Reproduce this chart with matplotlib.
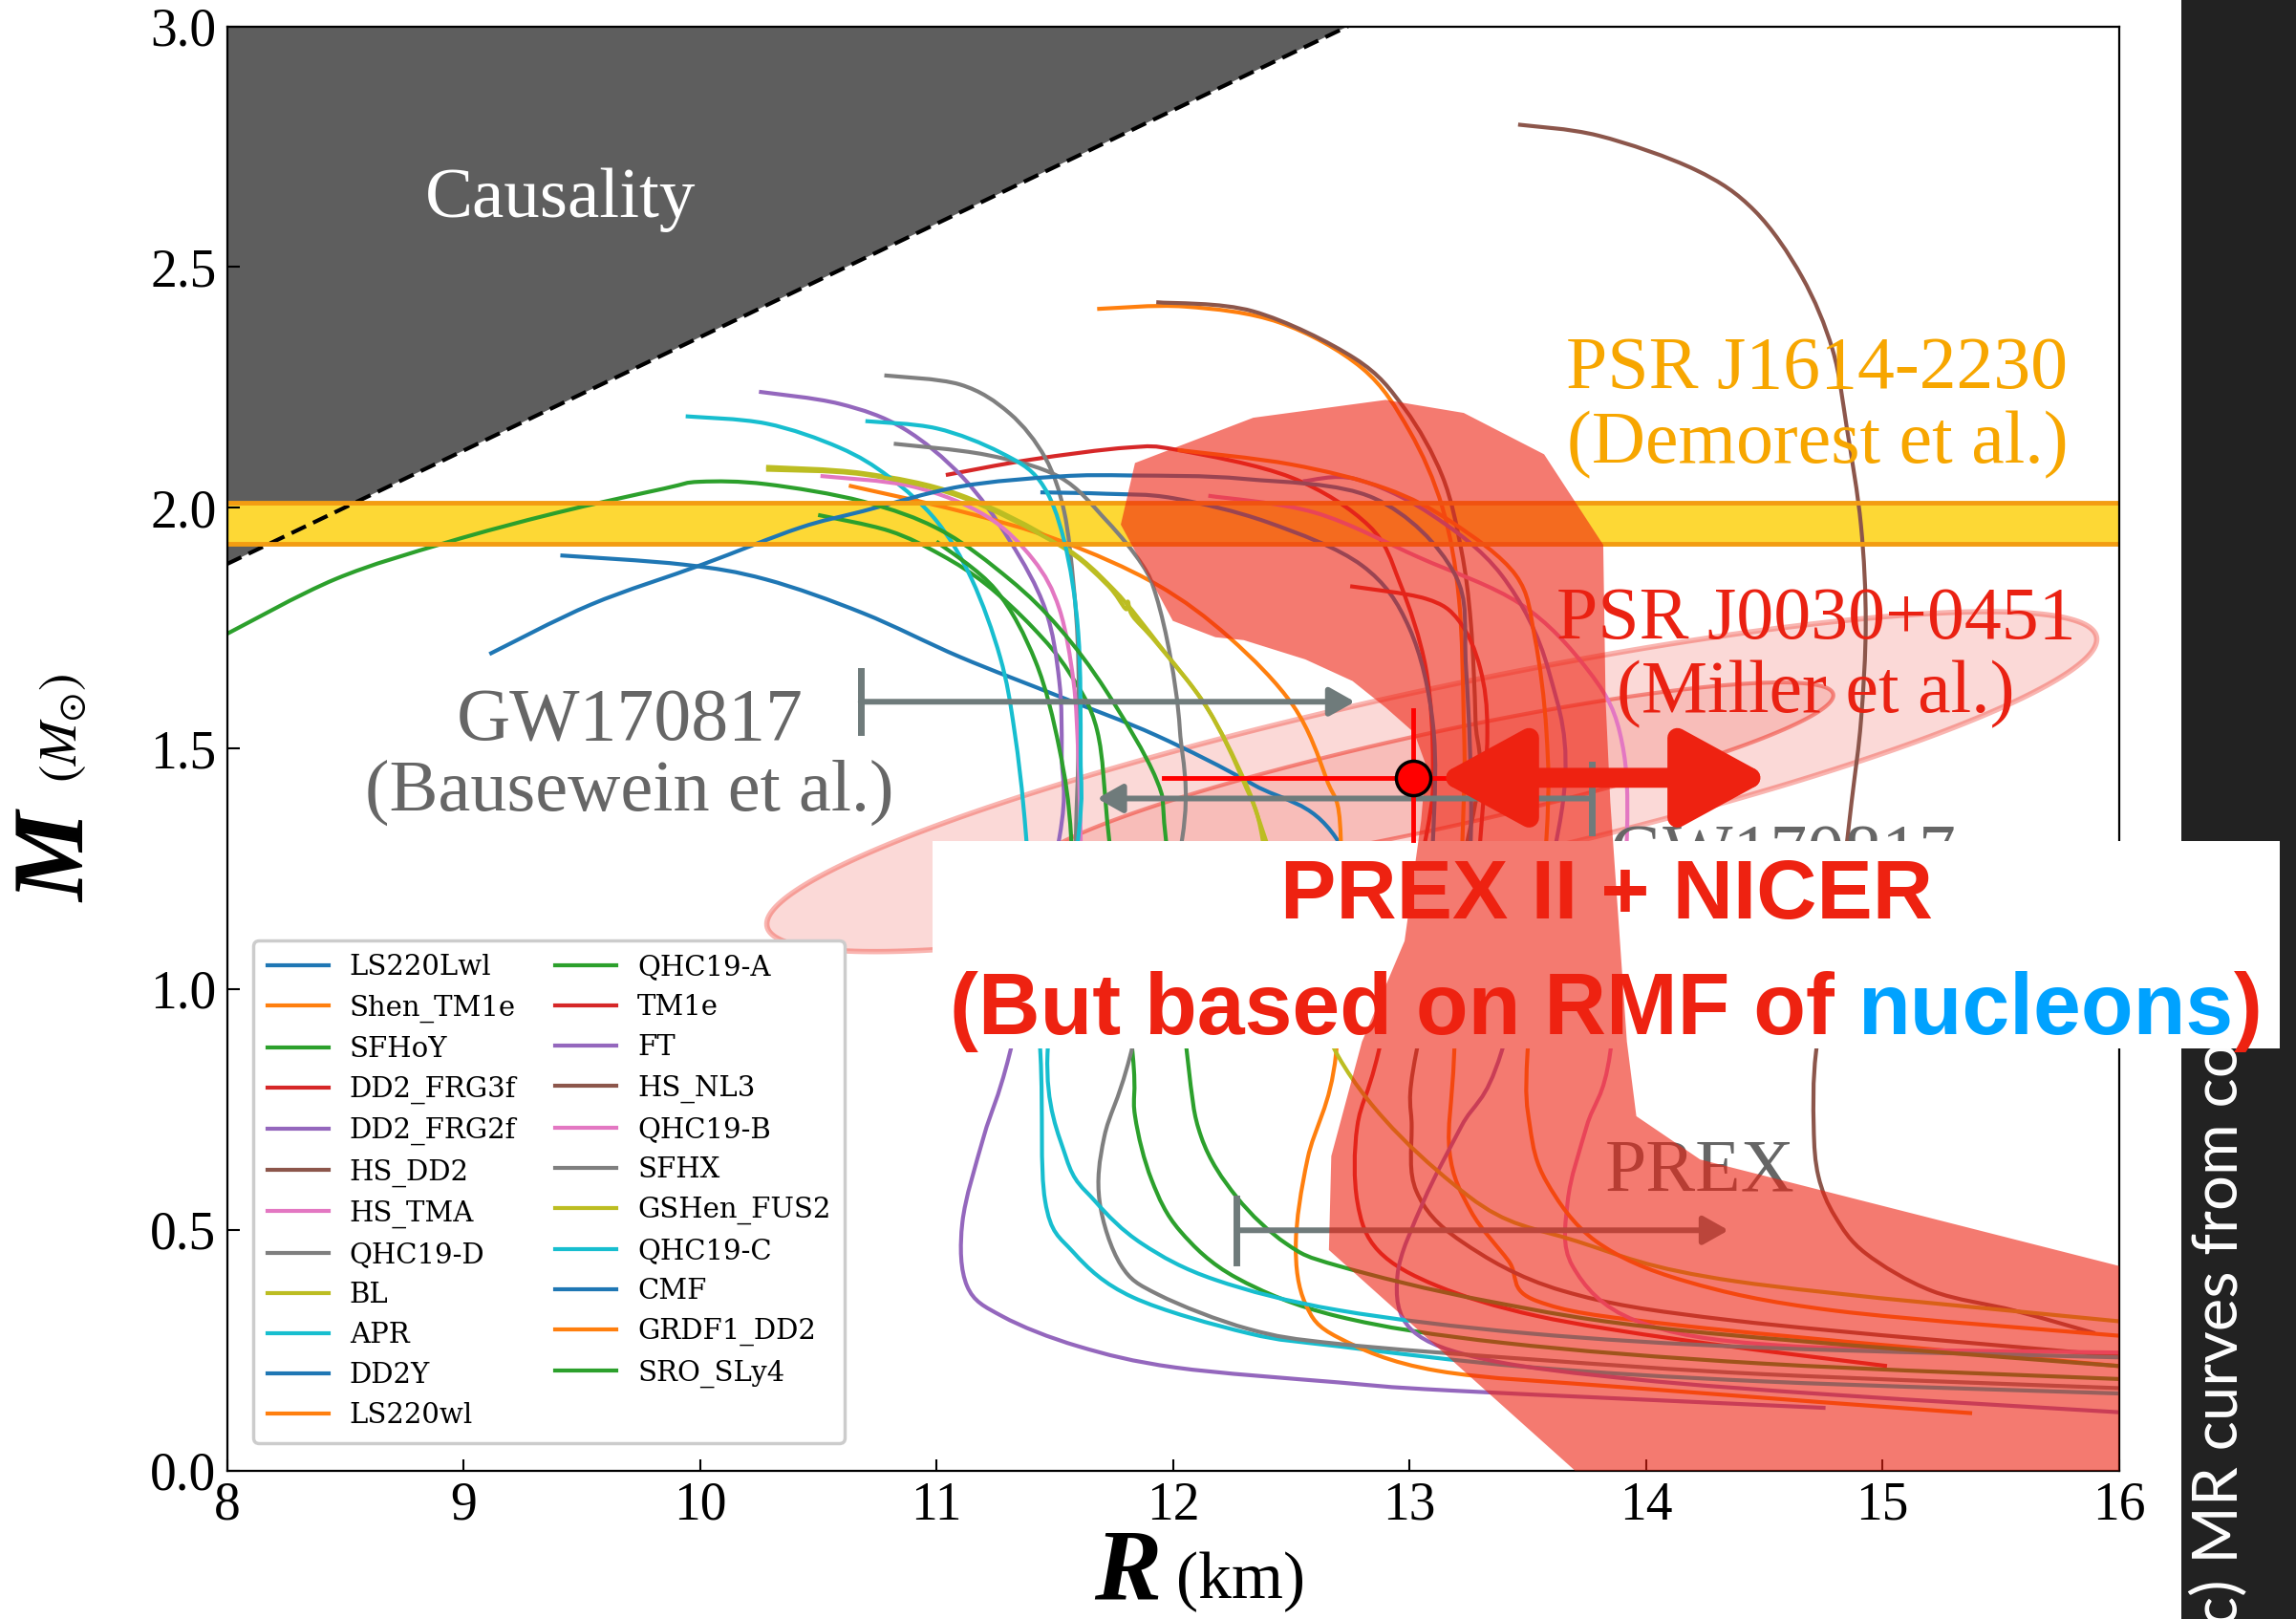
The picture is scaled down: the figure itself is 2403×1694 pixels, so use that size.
import numpy as np
import matplotlib
matplotlib.use("Agg")
import matplotlib.pyplot as plt
from matplotlib.patches import Polygon, Rectangle, PathPatch
from matplotlib.path import Path
from matplotlib.lines import Line2D

plt.rcParams['mathtext.fontset'] = 'stix'
plt.rcParams['font.family'] = 'serif'
plt.rcParams['font.serif'] = ['Liberation Serif', 'DejaVu Serif']

W, H = 2403, 1694

# ---- mass-radius curves (R in km, M in Msun) ----
LS220Lwl_R = [9.41, 9.93, 10.28, 10.69, 11.10, 11.52, 11.93, 12.34, 12.69, 13.0]
LS220Lwl_M = [1.901, 1.882, 1.851, 1.781, 1.690, 1.608, 1.527, 1.425, 1.314, 0.95]

Shen_TM1e_R = [11.68, 12.05, 12.45, 12.80, 13.00, 13.14, 13.21, 13.23, 13.23, 13.19, 13.17, 13.26, 13.42, 13.54, 14.17, 16.0]
Shen_TM1e_M = [2.413, 2.418, 2.385, 2.290, 2.160, 2.000, 1.810, 1.560, 1.390, 0.870, 0.663, 0.539, 0.435, 0.352, 0.300, 0.217]

SFHoY_R = [10.50, 10.80, 11.02, 11.21, 11.41, 11.56, 11.68, 11.73, 11.83, 11.84, 11.91, 12.03, 12.27, 12.70, 13.40, 14.50, 16.0]
SFHoY_M = [1.985, 1.952, 1.902, 1.841, 1.750, 1.659, 1.537, 1.314, 0.866, 0.737, 0.604, 0.498, 0.400, 0.320, 0.265, 0.222, 0.190]

DD2_FRG3f_R = [11.04, 11.40, 11.81, 12.02, 12.50, 12.83, 12.96, 13.07, 13.10, 13.07, 12.87, 12.78, 12.78, 12.87, 13.12, 13.54, 14.17, 15.02]
DD2_FRG3f_M = [2.068, 2.100, 2.125, 2.120, 2.063, 1.962, 1.844, 1.666, 1.467, 1.315, 0.870, 0.715, 0.559, 0.456, 0.383, 0.321, 0.270, 0.217]

DD2_FRG2f_R = [10.25, 10.59, 10.86, 11.11, 11.31, 11.46, 11.52, 11.53, 11.52, 11.31, 11.20, 11.11, 11.13, 11.28, 11.60, 12.01, 12.70, 13.18, 14.76]
DD2_FRG2f_M = [2.241, 2.216, 2.165, 2.064, 1.932, 1.790, 1.639, 1.487, 1.314, 0.866, 0.693, 0.515, 0.383, 0.320, 0.258, 0.214, 0.183, 0.166, 0.130]

HS_DD2_R = [11.93, 12.34, 12.77, 12.98, 13.14, 13.22, 13.26, 13.28, 13.28, 13.03, 13.01, 13.03, 13.22, 13.65, 14.38, 16.0]
HS_DD2_M = [2.427, 2.408, 2.310, 2.206, 2.065, 1.912, 1.761, 1.558, 1.388, 0.870, 0.714, 0.580, 0.476, 0.373, 0.311, 0.238]

HS_TMA_R = [12.15, 12.60, 13.04, 13.47, 13.75, 13.89, 13.92, 13.85, 13.75, 13.67, 13.69, 13.96, 14.59, 16.0]
HS_TMA_M = [2.025, 1.990, 1.897, 1.800, 1.666, 1.533, 1.315, 0.870, 0.715, 0.560, 0.425, 0.311, 0.259, 0.245]

QHC19_D_R = [10.78, 11.10, 11.31, 11.46, 11.54, 11.58, 11.60, 11.60, 11.59, 11.58]
QHC19_D_M = [2.275, 2.256, 2.196, 2.104, 1.993, 1.841, 1.689, 1.487, 1.314, 1.000]

BL_R = [10.28, 10.69, 11.10, 11.52, 11.75, 11.95, 12.15, 12.30, 12.38, 12.45]
BL_M = [2.085, 2.072, 2.027, 1.925, 1.830, 1.710, 1.580, 1.430, 1.310, 1.000]

APR_R = [9.94, 10.28, 10.59, 10.80, 11.00, 11.15, 11.27, 11.33, 11.38, 11.44, 11.46, 11.58, 11.83, 12.32, 12.70, 13.50, 14.50, 16.0]
APR_M = [2.190, 2.175, 2.125, 2.064, 1.973, 1.851, 1.689, 1.537, 1.314, 0.866, 0.560, 0.453, 0.360, 0.285, 0.258, 0.215, 0.185, 0.160]

DD2Y_R = [11.44, 11.72, 12.00, 12.40, 12.80, 13.00, 13.10, 13.10, 13.05]
DD2Y_M = [2.032, 2.029, 2.020, 1.970, 1.880, 1.750, 1.550, 1.310, 1.000]

LS220wl_R = [10.63, 11.10, 11.52, 11.93, 12.24, 12.51, 12.65, 12.71, 12.69, 12.57, 12.52, 12.56, 12.70, 13.12, 13.96, 15.38]
LS220wl_M = [2.046, 1.993, 1.932, 1.841, 1.730, 1.588, 1.436, 1.314, 0.866, 0.648, 0.471, 0.347, 0.276, 0.207, 0.171, 0.119]

QHC19_A_R = [11.00, 11.25, 11.42, 11.52, 11.57, 11.58]
QHC19_A_M = [1.930, 1.830, 1.680, 1.500, 1.314, 1.000]

TM1e_R = [12.75, 13.07, 13.21, 13.30, 13.33, 13.30, 13.25]
TM1e_M = [1.837, 1.811, 1.765, 1.666, 1.533, 1.310, 1.000]

FT_R = [12.55, 12.77, 13.08, 13.39, 13.59, 13.65, 13.39, 13.22, 13.06, 12.95, 13.01, 13.33, 13.96, 14.80, 16.0]
FT_M = [2.055, 2.060, 1.990, 1.860, 1.660, 1.390, 0.870, 0.715, 0.559, 0.406, 0.292, 0.230, 0.189, 0.157, 0.121]

HS_NL3_R = [13.46, 13.80, 14.21, 14.46, 14.66, 14.79, 14.85, 14.91, 14.93, 14.91, 14.87, 14.80, 14.72, 14.71, 14.73, 14.80, 14.93, 15.21, 15.56, 15.90]
HS_NL3_M = [2.796, 2.773, 2.702, 2.617, 2.480, 2.328, 2.166, 1.963, 1.761, 1.558, 1.388, 1.100, 0.870, 0.715, 0.611, 0.528, 0.451, 0.373, 0.332, 0.285]

QHC19_B_R = [10.51, 10.90, 11.21, 11.41, 11.52, 11.58, 11.60, 11.61, 11.62]
QHC19_B_M = [2.066, 2.044, 1.983, 1.892, 1.790, 1.639, 1.487, 1.314, 1.000]

SFHX_R = [10.82, 11.21, 11.52, 11.72, 11.87, 11.93, 11.99, 12.03, 12.04, 11.82, 11.71, 11.69, 11.78, 11.94, 12.32, 12.70, 13.54, 14.50, 16.0]
SFHX_M = [2.133, 2.110, 2.064, 1.973, 1.882, 1.816, 1.689, 1.537, 1.314, 0.862, 0.693, 0.560, 0.427, 0.365, 0.294, 0.263, 0.230, 0.200, 0.171]

GSHen_FUS2_R = [10.28, 10.69, 11.10, 11.52, 11.72, 11.80, 11.81, 11.83, 11.93, 12.14, 12.30, 12.39, 12.70, 13.25, 13.71, 14.38, 16.0]
GSHen_FUS2_M = [2.079, 2.069, 2.023, 1.922, 1.841, 1.790, 1.805, 1.775, 1.720, 1.588, 1.436, 1.314, 0.860, 0.570, 0.476, 0.393, 0.310]

QHC19_C_R = [10.70, 11.00, 11.27, 11.44, 11.54, 11.60, 11.61, 11.60, 11.47, 11.55, 11.67, 11.87, 12.18, 12.70, 13.50, 14.50, 16.0]
QHC19_C_M = [2.180, 2.165, 2.115, 2.054, 1.932, 1.740, 1.487, 1.314, 0.866, 0.648, 0.560, 0.471, 0.396, 0.333, 0.285, 0.255, 0.235]

CMF_R = [9.11, 9.54, 10.01, 10.42, 10.69, 11.10, 11.52, 11.83, 12.30, 12.85, 13.19, 13.24, 13.26, 13.20]
CMF_M = [1.696, 1.799, 1.882, 1.958, 1.993, 2.044, 2.065, 2.067, 2.060, 2.020, 1.864, 1.666, 1.315, 1.000]

GRDF1_DD2_R = [12.02, 12.50, 12.90, 13.18, 13.45, 13.53, 13.58, 13.58, 13.50, 13.51, 13.58, 13.79, 14.17, 14.80, 16.0]
GRDF1_DD2_M = [2.120, 2.090, 2.040, 1.970, 1.860, 1.732, 1.533, 1.315, 0.870, 0.715, 0.600, 0.476, 0.393, 0.332, 0.280]

SRO_SLy4_R = [8.00, 8.46, 8.93, 9.39, 9.85, 10.00, 10.28, 10.69, 11.02, 11.31, 11.52, 11.72, 11.93, 11.97, 12.06, 12.12, 12.27, 12.48, 12.70, 13.33, 14.17, 16.0]
SRO_SLy4_M = [1.738, 1.852, 1.928, 1.989, 2.040, 2.054, 2.049, 2.013, 1.953, 1.851, 1.750, 1.618, 1.436, 1.314, 0.866, 0.693, 0.568, 0.471, 0.425, 0.352, 0.290, 0.217]

eos_names = ['LS220Lwl', 'Shen_TM1e', 'SFHoY', 'DD2_FRG3f', 'DD2_FRG2f', 'HS_DD2',
             'HS_TMA', 'QHC19-D', 'BL', 'APR', 'DD2Y', 'LS220wl', 'QHC19-A', 'TM1e',
             'FT', 'HS_NL3', 'QHC19-B', 'SFHX', 'GSHen_FUS2', 'QHC19-C', 'CMF',
             'GRDF1_DD2', 'SRO_SLy4']
eos_R = [LS220Lwl_R, Shen_TM1e_R, SFHoY_R, DD2_FRG3f_R, DD2_FRG2f_R, HS_DD2_R,
         HS_TMA_R, QHC19_D_R, BL_R, APR_R, DD2Y_R, LS220wl_R, QHC19_A_R, TM1e_R,
         FT_R, HS_NL3_R, QHC19_B_R, SFHX_R, GSHen_FUS2_R, QHC19_C_R, CMF_R,
         GRDF1_DD2_R, SRO_SLy4_R]
eos_M = [LS220Lwl_M, Shen_TM1e_M, SFHoY_M, DD2_FRG3f_M, DD2_FRG2f_M, HS_DD2_M,
         HS_TMA_M, QHC19_D_M, BL_M, APR_M, DD2Y_M, LS220wl_M, QHC19_A_M, TM1e_M,
         FT_M, HS_NL3_M, QHC19_B_M, SFHX_M, GSHen_FUS2_M, QHC19_C_M, CMF_M,
         GRDF1_DD2_M, SRO_SLy4_M]

# ---- constraint regions ----
causal_R = [8.0, 12.74, 8.0]
causal_M = [1.883, 3.0, 3.0]
j1614_band = (1.926, 2.011)

prex_R = [11.84, 12.34, 12.90, 13.23, 13.57, 13.82, 13.83, 13.85, 13.92, 13.96, 14.23, 16.0, 16.0,
          13.70, 12.66, 12.67, 12.80, 12.98, 13.05, 13.07, 13.02, 12.90, 12.76, 12.56, 12.30,
          12.18, 12.00, 11.78]
prex_M = [2.093, 2.187, 2.224, 2.197, 2.111, 1.923, 1.600, 1.388, 0.891, 0.736, 0.646, 0.425, 0.0,
          0.0, 0.458, 0.653, 0.891, 1.100, 1.350, 1.466, 1.533, 1.585, 1.640, 1.685, 1.725,
          1.731, 1.765, 1.965]

# J0030 ellipses: centre (R, M), semi-axes in pixels, tilt in degrees
j0030_center = (13.095, 1.431)
j0030_outer = (712, 95, 12.3)
j0030_inner = (430, 50, 12.3)

nicer_point = (13.015, 1.439)
nicer_xerr_left = 11.96
nicer_yerr = (1.31, 1.58)
nicer_arrow = (13.11, 14.53)

gw_lower = (10.68, 12.77, 1.597)   # start, end, M
gw_upper = (13.77, 11.68, 1.396)
prex_arrow = (12.27, 14.35, 0.499)

fig = plt.figure(figsize=(W / 100, H / 100), dpi=100)
ax = fig.add_axes([237.5 / W, 1 - 1538.6 / H, 1980 / W, 1511 / H])
ax.set_autoscale_on(False)
ax.set_xlim(8, 16)
ax.set_ylim(0, 3)
sx = 1980 / 8.0
sy = 1511 / 3.0


def smooth_path(R, M):
    # draw the read points joined by a Catmull-Rom style bezier (screen-space)
    P = np.column_stack([np.asarray(R) * sx, np.asarray(M) * sy])
    ext = np.vstack([P[0], P, P[-1]])
    verts = [P[0]]
    codes = [Path.MOVETO]
    for i in range(len(P) - 1):
        p0, p1, p2, p3 = ext[i], ext[i + 1], ext[i + 2], ext[i + 3]
        verts += [p1 + (p2 - p0) / 6, p2 - (p3 - p1) / 6, p2]
        codes += [Path.CURVE4] * 3
    verts = np.array(verts) / [sx, sy]
    return Path(verts, codes)


# causality
ax.fill(causal_R, causal_M, color='#5e5e5e', lw=0, zorder=1)
ax.plot(causal_R[:2], causal_M[:2], color='black', lw=3, ls=(0, (4, 2)), zorder=1.2)
ax.text(9.41, 2.604, 'Causality', color='white', fontsize=54, ha='center', va='baseline', zorder=1.3)

# J1614 band
ax.axhspan(j1614_band[0], j1614_band[1], color='#fdd835', lw=0, zorder=1)
for m in j1614_band:
    ax.axhline(m, color='#f39c12', lw=3.5, zorder=2.6)
ax.text(14.725, 2.248, 'PSR J1614-2230', color='#f7a600', fontsize=56, ha='center', va='baseline', zorder=3)
ax.text(14.725, 2.093, '(Demorest et al.)', color='#f7a600', fontsize=56, ha='center', va='baseline', zorder=3)

# J0030 ellipses
t = np.linspace(0, 2 * np.pi, 300)
for (a, b, ang), fc, ec, lw in [(j0030_outer, (0.93, 0.13, 0.07, 0.17), (0.93, 0.13, 0.07, 0.33), 4.0),
                                 (j0030_inner, (0.93, 0.13, 0.07, 0.15), (0.93, 0.13, 0.07, 0.45), 3.0)]:
    th = np.deg2rad(ang)
    px = a * np.cos(t) * np.cos(th) - b * np.sin(t) * np.sin(th)
    py = a * np.cos(t) * np.sin(th) + b * np.sin(t) * np.cos(th)
    ax.add_patch(Polygon(np.column_stack([j0030_center[0] + px / sx, j0030_center[1] + py / sy]),
                         closed=True, fc=fc, ec=ec, lw=lw, zorder=1.5))

# EOS curves
handles = []
for i, (name, R, M) in enumerate(zip(eos_names, eos_R, eos_M)):
    col = 'C%d' % (i % 10)
    ax.add_patch(PathPatch(smooth_path(R, M), fill=False, ec=col, lw=3.0, zorder=2,
                           capstyle='butt', joinstyle='round'))
    handles.append(Line2D([], [], color=col, lw=3.0, label=name))

gray = '#6f7b7b'
arrow_kw = dict(arrowstyle='-|>,head_length=0.8,head_width=0.45', color=gray, lw=4.3,
                shrinkA=0, shrinkB=0, mutation_scale=20)

# GW170817 lower-bound arrow
ax.annotate('', xy=(gw_lower[1], gw_lower[2]), xytext=(gw_lower[0], gw_lower[2]),
            arrowprops=arrow_kw, zorder=3)
ax.plot([gw_lower[0]] * 2, [gw_lower[2] - 0.064, gw_lower[2] + 0.064], color=gray, lw=5, zorder=3)
ax.text(9.703, 1.518, 'GW170817', color='#666666', fontsize=56, ha='center', va='baseline', zorder=3)
ax.text(9.703, 1.372, '(Bausewein et al.)', color='#666666', fontsize=55, ha='center', va='baseline', zorder=3)

# GW170817 upper-bound arrow
ax.annotate('', xy=(gw_upper[1], gw_upper[2]), xytext=(gw_upper[0], gw_upper[2]),
            arrowprops=arrow_kw, zorder=9.5)
ax.plot([gw_upper[0]] * 2, [gw_upper[2] - 0.07, gw_upper[2] + 0.07], color=gray, lw=5, zorder=9.5)
ax.text(14.58, 1.235, 'GW170817', color='#666666', fontsize=56, ha='center', va='baseline', zorder=3)

# PREX arrow
ax.annotate('', xy=(prex_arrow[1], prex_arrow[2]), xytext=(prex_arrow[0], prex_arrow[2]),
            arrowprops=arrow_kw, zorder=3)
ax.plot([prex_arrow[0]] * 2, [prex_arrow[2] - 0.067, prex_arrow[2] + 0.067], color=gray, lw=5, zorder=3)
ax.text(14.23, 0.581, 'PREX', color='#666666', fontsize=56, ha='center', va='baseline', zorder=3)

# white banner (drawn from the axes so the band can sit on top of it)
box = Rectangle((976 / W, 1 - 1097 / H), 1410 / W, 217 / H, transform=fig.transFigure,
                fc='white', ec='none', zorder=8)
ax.add_patch(box)
box.set_clip_on(False)

# PREX II + NICER region
ax.fill(prex_R, prex_M, color='#ee2211', alpha=0.6, lw=0, zorder=9)

# NICER J0030 point
ax.plot([nicer_xerr_left, 14.07], [nicer_point[1]] * 2, color='#ff0000', lw=3.5, zorder=9.6)
ax.plot([nicer_point[0]] * 2, list(nicer_yerr), color='#ff0000', lw=3.5, zorder=9.6)
ax.annotate('', xy=(nicer_arrow[1], nicer_point[1]), xytext=(nicer_arrow[0], nicer_point[1]),
            arrowprops=dict(arrowstyle='<|-|>,head_length=1.1,head_width=0.6', color='#ee2211',
                            lw=15, shrinkA=0, shrinkB=0, mutation_scale=50), zorder=9.7)
ax.plot([nicer_point[0]], [nicer_point[1]], 'o', ms=26, mfc='#ff0000', mec='black', mew=2.5, zorder=9.8)
ax.text(14.72, 1.728, 'PSR J0030+0451', color='#ea2112', fontsize=56, ha='center', va='baseline', zorder=9.5)
ax.text(14.72, 1.576, '(Miller et al.)', color='#ea2112', fontsize=56, ha='center', va='baseline', zorder=9.5)

# axes styling
ax.set_xticks(range(8, 17))
ax.set_yticks(np.arange(0, 3.01, 0.5))
ax.tick_params(direction='in', length=9, width=1.5, labelsize=40, top=False, right=False, pad=8)
for sp in ax.spines.values():
    sp.set_linewidth(1.6)
    sp.set_zorder(2.7)

leg = ax.legend(handles=handles, ncol=2, loc='lower left', bbox_to_anchor=(0.0139, 0.0192),
                borderaxespad=0, prop={'family': 'DejaVu Serif', 'size': 21}, frameon=True,
                fancybox=True, edgecolor='#cccccc', framealpha=1, handlelength=2.2,
                handletextpad=0.75, labelspacing=0.48, columnspacing=1.4, borderpad=0.5)
leg.get_frame().set_linewidth(2.5)
leg.set_zorder(7)

# axis labels
fig.text(63 / W, 1 - 897 / H, 'M', rotation=90, fontsize=76, fontweight='bold', fontstyle='italic',
         ha='center', va='center')
fig.text(66 / W, 1 - 762 / H, r'$(M_{\odot})$', rotation=90, fontsize=40, ha='center', va='center')
fig.text(1180 / W, 1 - 1647 / H, 'R', fontsize=76, fontweight='bold', fontstyle='italic',
         ha='center', va='center')
fig.text(1299 / W, 1 - 1655 / H, '(km)', fontsize=50, ha='center', va='center')

# dark side strip
strip = Rectangle((2283 / W, 0), (W - 2283) / W, 1, transform=fig.transFigure, fc='#222222',
                  ec='none', zorder=-1)
fig.add_artist(strip)
fig.text(2322 / W, -0.004, 'c) MR curves from co', rotation=90, color='white', fontsize=47,
         family='Lato', ha='center', va='bottom', zorder=-0.5)

# banner text
red = '#ee2211'
blue = '#00a2ff'
fig.text(1681 / W, 1 - 961 / H, 'PREX II + NICER', color=red, fontsize=63, fontweight='bold',
         family='Liberation Sans', ha='center', va='baseline', zorder=12)
pieces = [('(But based on RMF of ', red), ('nucleons', blue), (')', red)]
renderer = fig.canvas.get_renderer()
objs = []
for s, c in pieces:
    objs.append(fig.text(0, 1 - 1082 / H, s, color=c, fontsize=64.5, fontweight='bold',
                         family='Liberation Sans', ha='left', va='baseline', zorder=12))
widths = [o.get_window_extent(renderer).width for o in objs]
x0 = 1681 - sum(widths) / 2
for o, w in zip(objs, widths):
    o.set_x(x0 / W)
    x0 += w

fig.savefig('out.png', dpi=100)
